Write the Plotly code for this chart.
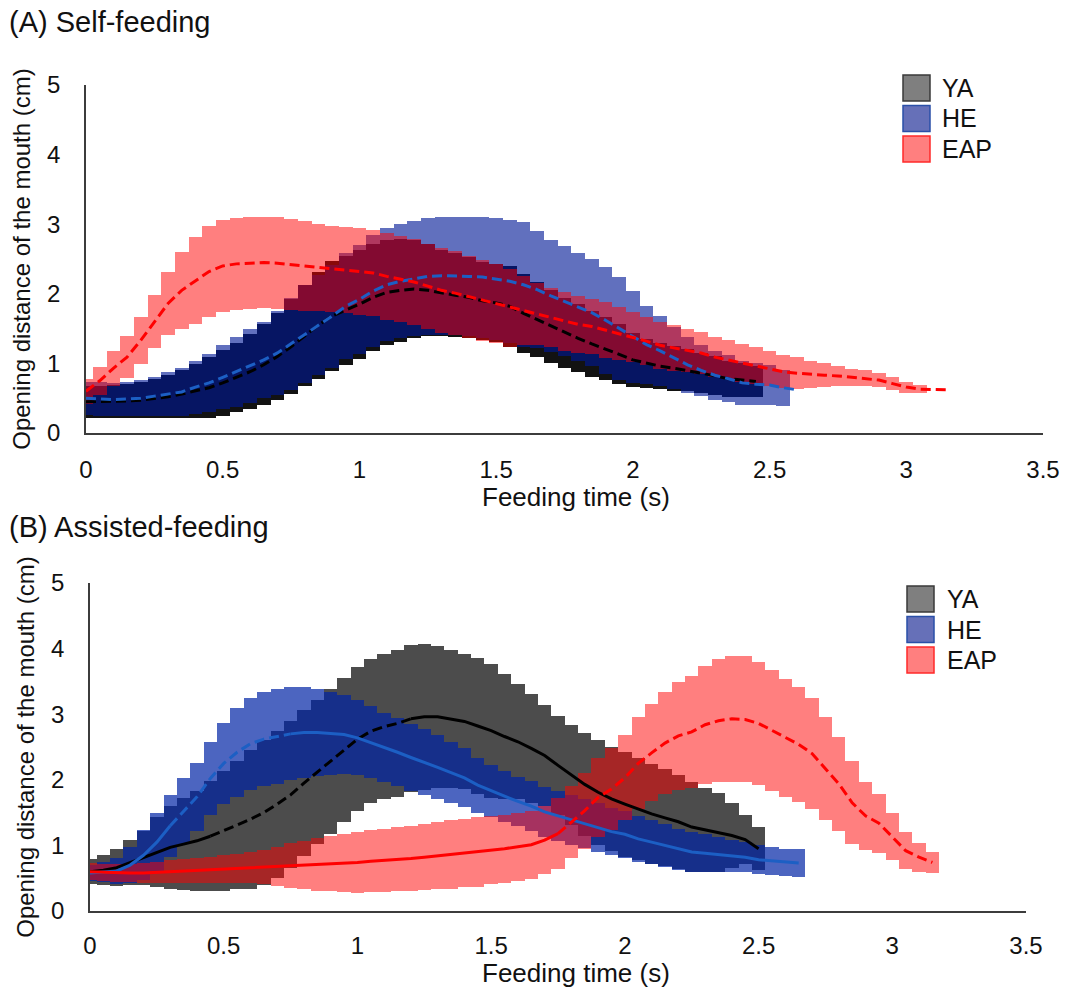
import plotly.graph_objects as go

W, H = 1073, 987

TIME = [0.00, 0.05, 0.10, 0.15, 0.20, 0.25, 0.30, 0.35, 0.40, 0.45,
        0.50, 0.55, 0.60, 0.65, 0.70, 0.75, 0.80, 0.85, 0.90, 0.95,
        1.00, 1.05, 1.10, 1.15, 1.20, 1.25, 1.30, 1.35, 1.40, 1.45,
        1.50, 1.55, 1.60, 1.65, 1.70, 1.75, 1.80, 1.85, 1.90, 1.95,
        2.00, 2.05, 2.10, 2.15, 2.20, 2.25, 2.30, 2.35, 2.40, 2.45,
        2.50, 2.55, 2.60, 2.65, 2.70, 2.75, 2.80, 2.85, 2.90, 2.95,
        3.00, 3.05, 3.10, 3.15]

X_TICKS = [0, 0.5, 1, 1.5, 2, 2.5, 3, 3.5]
X_TICK_TEXT = ["0", "0.5", "1", "1.5", "2", "2.5", "3", "3.5"]
Y_TICKS = [0, 1, 2, 3, 4, 5]
GROUPS = ["YA", "HE", "EAP"]

# ---------------- (A) Self-feeding ----------------
YA_A_MEAN = [0.45, 0.45, 0.45, 0.46, 0.47, 0.49, 0.52, 0.56, 0.60, 0.65,
             0.72, 0.80, 0.88, 0.98, 1.10, 1.24, 1.40, 1.55, 1.68, 1.76,
             1.85, 1.95, 2.02, 2.05, 2.07, 2.05, 2.01, 1.98, 1.95, 1.90,
             1.87, 1.82, 1.72, 1.63, 1.53, 1.44, 1.36, 1.28, 1.21, 1.13,
             1.05, 1.00, 0.96, 0.93, 0.90, 0.86, 0.82, 0.78, 0.76, 0.74]
YA_A_SD = [0.23, 0.23, 0.24, 0.25, 0.26, 0.28, 0.31, 0.35, 0.39, 0.44,
           0.47, 0.50, 0.54, 0.58, 0.63, 0.68, 0.73, 0.77, 0.79, 0.79,
           0.78, 0.77, 0.76, 0.74, 0.70, 0.66, 0.62, 0.60, 0.58, 0.56,
           0.56, 0.58, 0.57, 0.54, 0.52, 0.50, 0.49, 0.47, 0.45, 0.43,
           0.39, 0.35, 0.33, 0.32, 0.30, 0.29, 0.28, 0.26, 0.24, 0.22]

HE_A_MEAN = [0.50, 0.49, 0.48, 0.49, 0.50, 0.53, 0.56, 0.59, 0.66, 0.72,
             0.80, 0.88, 0.96, 1.05, 1.15, 1.28, 1.42, 1.55, 1.68, 1.82,
             1.92, 2.04, 2.13, 2.18, 2.22, 2.25, 2.26, 2.26, 2.25, 2.24,
             2.21, 2.18, 2.13, 2.06, 1.97, 1.89, 1.81, 1.73, 1.62, 1.50,
             1.38, 1.27, 1.18, 1.08, 0.98, 0.90, 0.83, 0.78, 0.72, 0.70,
             0.69, 0.65, 0.62]
HE_A_SD = [0.24, 0.24, 0.24, 0.25, 0.26, 0.28, 0.31, 0.35, 0.38, 0.42,
           0.46, 0.50, 0.53, 0.55, 0.60, 0.66, 0.70, 0.72, 0.74, 0.76,
           0.78, 0.80, 0.81, 0.82, 0.83, 0.84, 0.85, 0.85, 0.86, 0.87,
           0.88, 0.88, 0.90, 0.84, 0.81, 0.79, 0.77, 0.77, 0.77, 0.74,
           0.66, 0.56, 0.50, 0.45, 0.40, 0.37, 0.35, 0.34, 0.32, 0.30,
           0.29, 0.26, None]

EAP_A_MEAN = [0.60, 0.75, 0.93, 1.09, 1.33, 1.60, 1.86, 2.05, 2.19, 2.32,
              2.40, 2.43, 2.44, 2.45, 2.44, 2.42, 2.40, 2.38, 2.36, 2.34,
              2.32, 2.30, 2.25, 2.21, 2.17, 2.11, 2.05, 2.01, 1.96, 1.90,
              1.86, 1.80, 1.76, 1.71, 1.66, 1.60, 1.56, 1.53, 1.48, 1.43,
              1.38, 1.32, 1.26, 1.22, 1.18, 1.15, 1.09, 1.05, 1.01, 0.97,
              0.93, 0.88, 0.86, 0.84, 0.83, 0.82, 0.80, 0.79, 0.76, 0.71,
              0.66, 0.63, 0.62, 0.62]
EAP_A_SD = [0.18, 0.20, 0.25, 0.30, 0.34, 0.38, 0.45, 0.55, 0.62, 0.65,
            0.66, 0.66, 0.66, 0.66, 0.66, 0.65, 0.64, 0.63, 0.62, 0.62,
            0.62, 0.62, 0.62, 0.62, 0.62, 0.61, 0.61, 0.60, 0.59, 0.58,
            0.57, 0.56, 0.50, 0.45, 0.43, 0.42, 0.41, 0.40, 0.40, 0.38,
            0.36, 0.35, 0.34, 0.33, 0.31, 0.30, 0.29, 0.28, 0.27, 0.26,
            0.25, 0.24, 0.23, 0.20, 0.17, 0.14, 0.12, 0.11, 0.10, 0.09,
            0.08, 0.06, None, None]

# ---------------- (B) Assisted-feeding ----------------
YA_B_MEAN = [0.60, 0.62, 0.66, 0.74, 0.81, 0.90, 0.97, 1.02, 1.07, 1.14,
             1.22, 1.31, 1.40, 1.50, 1.63, 1.77, 1.95, 2.12, 2.28, 2.45,
             2.62, 2.74, 2.81, 2.86, 2.93, 2.96, 2.96, 2.93, 2.89, 2.82,
             2.75, 2.66, 2.58, 2.48, 2.37, 2.22, 2.07, 1.93, 1.81, 1.71,
             1.63, 1.55, 1.48, 1.42, 1.36, 1.28, 1.24, 1.20, 1.15, 1.09,
             0.95]
YA_B_SD = [0.19, 0.23, 0.28, 0.35, 0.41, 0.53, 0.63, 0.70, 0.76, 0.84,
           0.91, 0.98, 1.06, 1.10, 1.12, 1.12, 1.11, 1.10, 1.10, 1.10,
           1.10, 1.10, 1.11, 1.12, 1.12, 1.11, 1.08, 1.05, 1.03, 1.03,
           1.02, 0.95, 0.88, 0.83, 0.77, 0.75, 0.76, 0.79, 0.80, 0.79,
           0.80, 0.78, 0.76, 0.74, 0.72, 0.68, 0.64, 0.60, 0.50, 0.38,
           0.33]

HE_B_MEAN = [0.58, 0.59, 0.61, 0.70, 0.85, 1.05, 1.30, 1.52, 1.74, 2.02,
             2.25, 2.42, 2.55, 2.62, 2.66, 2.70, 2.72, 2.72, 2.71, 2.69,
             2.64, 2.57, 2.49, 2.42, 2.34, 2.27, 2.19, 2.11, 2.03, 1.92,
             1.83, 1.75, 1.67, 1.60, 1.51, 1.45, 1.39, 1.33, 1.27, 1.21,
             1.17, 1.10, 1.05, 1.00, 0.94, 0.90, 0.88, 0.86, 0.84, 0.82,
             0.78, 0.76, 0.74, 0.73]
HE_B_SD = [0.12, 0.15, 0.20, 0.28, 0.38, 0.44, 0.47, 0.50, 0.52, 0.56,
           0.62, 0.68, 0.70, 0.72, 0.72, 0.71, 0.70, 0.66, 0.63, 0.60,
           0.57, 0.55, 0.53, 0.52, 0.51, 0.50, 0.49, 0.47, 0.45, 0.42,
           0.40, 0.39, 0.38, 0.38, 0.38, 0.38, 0.38, 0.37, 0.37, 0.36,
           0.36, 0.35, 0.34, 0.33, 0.31, 0.30, 0.29, 0.27, 0.25, 0.23,
           0.22, 0.21, 0.21, 0.21]

EAP_B_MEAN = [0.60, 0.59, 0.58, 0.58, 0.58, 0.59, 0.60, 0.61, 0.62, 0.63,
              0.64, 0.65, 0.66, 0.67, 0.68, 0.69, 0.70, 0.71, 0.72, 0.73,
              0.74, 0.76, 0.77, 0.79, 0.80, 0.82, 0.84, 0.86, 0.88, 0.90,
              0.93, 0.95, 0.98, 1.01, 1.08, 1.18, 1.36, 1.53, 1.73, 1.86,
              2.03, 2.25, 2.41, 2.56, 2.67, 2.73, 2.84, 2.90, 2.93, 2.92,
              2.86, 2.75, 2.64, 2.54, 2.40, 2.17, 1.94, 1.65, 1.45, 1.34,
              1.13, 0.92, 0.82, 0.74]
EAP_B_SD = [0.13, 0.13, 0.14, 0.14, 0.15, 0.16, 0.17, 0.18, 0.19, 0.20,
            0.21, 0.22, 0.24, 0.26, 0.30, 0.34, 0.37, 0.40, 0.42, 0.44,
            0.46, 0.47, 0.48, 0.49, 0.50, 0.50, 0.51, 0.52, 0.52, 0.53,
            0.52, 0.52, 0.52, 0.52, 0.52, 0.54, 0.55, 0.58, 0.60, 0.62,
            0.65, 0.70, 0.74, 0.78, 0.82, 0.86, 0.90, 0.94, 0.96, 0.96,
            0.94, 0.92, 0.90, 0.88, 0.84, 0.78, 0.72, 0.63, 0.52, 0.45,
            0.36, 0.28, 0.22, 0.16]

# line-style segments (index ranges on TIME) for panel B mean lines
YA_B_SEGMENTS = [(0, 9, "solid"), (9, 24, "10px,5px"), (24, 50, "solid")]
HE_B_SEGMENTS = [(0, 6, "solid"), (6, 15, "10px,5px"), (15, 53, "solid")]
EAP_B_SEGMENTS = [(0, 35, "solid"), (35, 63, "10px,5px")]

BAR_WIDTH = 0.05
LINE_COLORS = {"YA": "#000000", "HE": "#1c5fc4", "EAP": "#ff0000"}
BAND_A = {"YA": "rgba(0,0,0,0.93)", "HE": "rgba(0,25,150,0.62)", "EAP": "rgba(255,0,0,0.5)"}
BAND_B = {"YA": "rgba(0,0,0,0.7)", "HE": "rgba(0,35,165,0.7)", "EAP": "rgba(255,0,0,0.5)"}
LEGEND_FILL = {"YA": "#7f7f7f", "HE": "#6670b8", "EAP": "#ff7f7f"}
LEGEND_EDGE = {"YA": "#3a3a3a", "HE": "#2a4fa8", "EAP": "#ff2a2a"}

FONT = "Arial, Liberation Sans, Helvetica, sans-serif"
TXT = "#111111"


def band(mean, sd, color, xa, ya, name):
    xs, base, h = [], [], []
    for t, m, s in zip(TIME, mean, sd):
        if s is None:
            continue
        xs.append(t)
        base.append(m - s)
        h.append(2 * s)
    return go.Bar(x=xs, y=h, base=base, width=BAR_WIDTH, name=name,
                  marker=dict(color=color, line=dict(width=0)),
                  xaxis=xa, yaxis=ya, showlegend=False, hoverinfo="skip")


def mean_line(mean, color, dash, xa, ya, i0=0, i1=None):
    n = len(mean)
    if i1 is None:
        i1 = n - 1
    return go.Scatter(x=TIME[i0:i1 + 1], y=mean[i0:i1 + 1], mode="lines",
                      line=dict(color=color, width=3, dash=dash),
                      xaxis=xa, yaxis=ya, showlegend=False, hoverinfo="skip")


fig = go.Figure()

A = {"YA": (YA_A_MEAN, YA_A_SD), "HE": (HE_A_MEAN, HE_A_SD), "EAP": (EAP_A_MEAN, EAP_A_SD)}
B = {"YA": (YA_B_MEAN, YA_B_SD), "HE": (HE_B_MEAN, HE_B_SD), "EAP": (EAP_B_MEAN, EAP_B_SD)}

for g in GROUPS:
    fig.add_trace(band(A[g][0], A[g][1], BAND_A[g], "x", "y", g))
for g in GROUPS:
    fig.add_trace(band(B[g][0], B[g][1], BAND_B[g], "x2", "y2", g))

for g in GROUPS:
    fig.add_trace(mean_line(A[g][0], LINE_COLORS[g], "10px,5px", "x", "y"))

for g, segs in zip(GROUPS, [YA_B_SEGMENTS, HE_B_SEGMENTS, EAP_B_SEGMENTS]):
    for i0, i1, d in segs:
        fig.add_trace(mean_line(B[g][0], LINE_COLORS[g], d, "x2", "y2", i0, i1))


def px_x(p):
    return p / W


def px_y(p):
    return 1 - p / H


axis_common = dict(showgrid=False, zeroline=False, showline=True, automargin=False,
                   linecolor="#3c3c3c", linewidth=1.6,
                   ticks="outside", tickcolor="rgba(0,0,0,0)",
                   tickfont=dict(family=FONT, size=24, color=TXT))

xa_common = dict(axis_common, range=[0, 3.5], tickvals=X_TICKS, ticktext=X_TICK_TEXT)
ya_common = dict(axis_common, range=[0, 5], tickvals=Y_TICKS, ticklen=19,
                 title=dict(text="Opening distance of the mouth (cm)",
                            font=dict(family=FONT, size=24, color=TXT), standoff=10))

fig.update_layout(
    width=W, height=H,
    margin=dict(l=0, r=0, t=0, b=0, autoexpand=False),
    paper_bgcolor="white", plot_bgcolor="white",
    barmode="overlay", bargap=0,
    showlegend=False,
    xaxis=dict(xa_common, domain=[px_x(86), px_x(1043)], anchor="y", ticklen=14),
    yaxis=dict(ya_common, domain=[px_y(433), px_y(85)], anchor="x"),
    xaxis2=dict(xa_common, domain=[px_x(90), px_x(1026)], anchor="y2", ticklen=12),
    yaxis2=dict(ya_common, domain=[px_y(911), px_y(583)], anchor="x2"),
)

annotations = [
    dict(text="(A) Self-feeding", x=px_x(7), y=px_y(22), xref="paper", yref="paper",
         xanchor="left", yanchor="middle", showarrow=False,
         font=dict(family=FONT, size=29, color=TXT)),
    dict(text="(B) Assisted-feeding", x=px_x(7), y=px_y(527), xref="paper", yref="paper",
         xanchor="left", yanchor="middle", showarrow=False,
         font=dict(family=FONT, size=29, color=TXT)),
]
# x-axis titles
for cy in (497, 973):
    annotations.append(dict(text="Feeding time (s)", x=px_x(576), y=px_y(cy), xref="paper", yref="paper",
                            xanchor="center", yanchor="middle", showarrow=False,
                            font=dict(family=FONT, size=26, color=TXT)))

shapes = []
legend_specs = [(903, 75, 940), (907, 586, 945)]
for lx, ly, tx in legend_specs:
    for k, g in enumerate(GROUPS):
        top = ly + k * 30.5
        shapes.append(dict(type="rect", xref="paper", yref="paper",
                           x0=px_x(lx), x1=px_x(lx + 27), y0=px_y(top + 26), y1=px_y(top),
                           fillcolor=LEGEND_FILL[g], line=dict(color=LEGEND_EDGE[g], width=1.5)))
        annotations.append(dict(text=g, x=px_x(tx), y=px_y(top + 13), xref="paper", yref="paper",
                                xanchor="left", yanchor="middle", showarrow=False,
                                font=dict(family=FONT, size=25, color=TXT)))

fig.update_layout(annotations=annotations, shapes=shapes)

fig.write_html("out.html")
